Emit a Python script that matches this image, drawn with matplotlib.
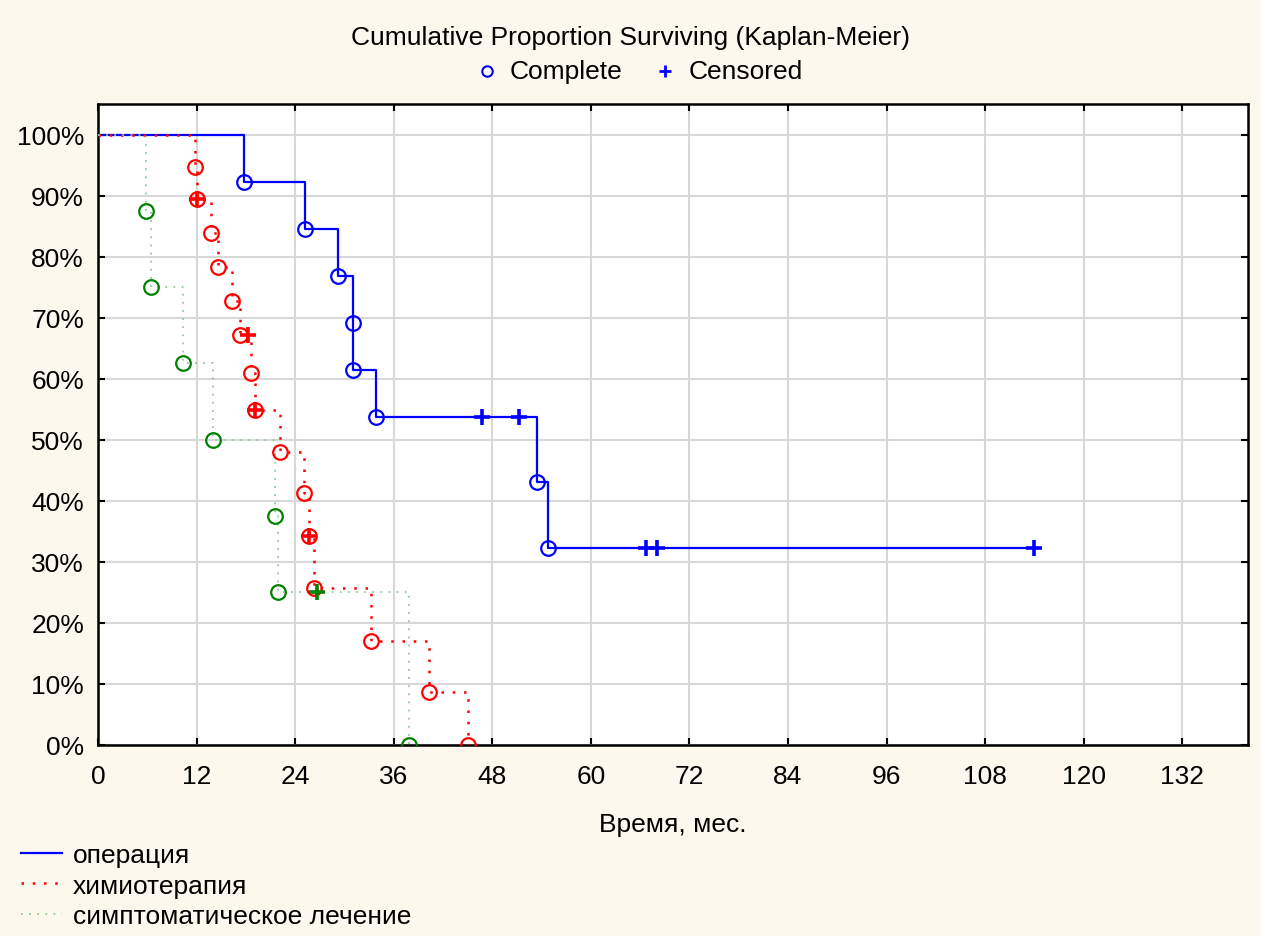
import matplotlib.pyplot as plt
from matplotlib.lines import Line2D
from matplotlib.ticker import FuncFormatter

plt.rcParams['font.family'] = ['Liberation Sans', 'DejaVu Sans']
plt.rcParams['font.size'] = 19

# Kaplan-Meier estimates, survival in %, months
op_event_t = [17.8, 25.2, 29.2, 31.1, 31.1, 33.8, 53.4, 54.8]
op_event_s = [92.3, 84.6, 76.9, 69.2, 61.5, 53.8, 43.1, 32.3]
op_cens_t = [46.7, 51.3, 66.7, 68.1, 114.0]
op_cens_s = [53.8, 53.8, 32.3, 32.3, 32.3]

ch_event_t = [11.8, 12.0, 13.7, 14.6, 16.3, 17.3, 18.6, 19.1, 22.1, 25.1, 25.7, 26.3, 33.2, 40.3, 45.0]
ch_event_s = [94.7, 89.5, 83.9, 78.3, 72.7, 67.1, 61.0, 54.9, 48.0, 41.2, 34.3, 25.7, 17.1, 8.6, 0.0]
ch_cens_t = [12.0, 18.3, 19.1, 25.7]
ch_cens_s = [89.5, 67.1, 54.9, 34.3]

sy_event_t = [5.8, 6.4, 10.4, 14.0, 21.6, 21.9, 37.9]
sy_event_s = [87.5, 75.0, 62.5, 50.0, 37.5, 25.0, 0.0]
sy_cens_t = [26.6]
sy_cens_s = [25.0]

group_names = ['операция', 'химиотерапия', 'симптоматическое лечение']
x_ticks = [0, 12, 24, 36, 48, 60, 72, 84, 96, 108, 120, 132]


def step_curve(ev_t, ev_s, cens_t, cens_s):
    # merge events and censorings into one post-step path starting at 100%
    pts = [(0.0, 100.0)] + list(zip(ev_t, ev_s)) + list(zip(cens_t, cens_s))
    pts.sort(key=lambda p: (p[0], -p[1]))
    xs = [p[0] for p in pts]
    ys = [p[1] for p in pts]
    return xs, ys


groups = [
    (op_event_t, op_event_s, op_cens_t, op_cens_s,
     dict(color='#0000ff', ls='-', lw=1.6), '#0000ff', '#0000ff'),
    (ch_event_t, ch_event_s, ch_cens_t, ch_cens_s,
     dict(color='#ff0000', ls=(0, (1, 3.5)), lw=1.8), '#ff0000', '#ff0000'),
    (sy_event_t, sy_event_s, sy_cens_t, sy_cens_s,
     dict(color='#8fcf8f', ls=(0, (1, 3.5)), lw=1.3), '#008000', '#008000'),
]

W, H = 1261, 937
fig = plt.figure(figsize=(W / 100, H / 100), dpi=100, facecolor='#fdf8ee')
ax = fig.add_axes([98 / W, 1 - 746 / H, 1150 / W, 641 / H])
ax.set_facecolor('white')

line_handles = []
for ev_t, ev_s, c_t, c_s, style, circ_col, plus_col in groups:
    xs, ys = step_curve(ev_t, ev_s, c_t, c_s)
    h, = ax.step(xs, ys, where='post', zorder=3, **style)
    line_handles.append(h)
    ax.plot(ev_t, ev_s, 'o', ms=10.5, mfc='none', mec=circ_col, mew=1.6, zorder=4)
    ax.plot(c_t, c_s, '+', ms=11, mec=plus_col, mew=2.6, zorder=5)

ax.set_xlim(0, 140)
ax.set_ylim(0, 105)
ax.set_xticks(x_ticks)
ax.set_yticks(range(0, 101, 10))
ax.yaxis.set_major_formatter(FuncFormatter(lambda v, p: f'{int(v)}%'))
ax.grid(True, color='#d8d8d8', lw=1.5)
ax.set_axisbelow(True)
ax.tick_params(direction='in', length=5, width=1.5, top=True, right=True,
               labeltop=False, labelright=False)
ax.tick_params(axis='x', pad=14)
ax.tick_params(axis='y', pad=10)
for sp in ax.spines.values():
    sp.set_linewidth(1.8)
    sp.set_color('black')

ax.set_xlabel('Время, мес.', labelpad=17)

fig.text(0.5, 1 - 38 / H, 'Cumulative Proportion Surviving (Kaplan-Meier)',
         ha='center', va='center')

# marker key under the title
key_y = 1 - 72 / H
fig.add_artist(Line2D([487 / W], [key_y], ls='none', marker='o', ms=7.5,
                      mfc='none', mec='#0000ff', mew=1.5, transform=fig.transFigure))
fig.text(510 / W, key_y, 'Complete', ha='left', va='center')
fig.add_artist(Line2D([665 / W], [key_y], ls='none', marker='+', ms=9,
                      mec='#0000ff', mew=2, transform=fig.transFigure))
fig.text(689 / W, key_y, 'Censored', ha='left', va='center')

fig.legend(line_handles, group_names, loc='upper left',
           bbox_to_anchor=(8 / W, 1 - 831 / H), frameon=False,
           handlelength=1.55, handletextpad=0.4, labelspacing=0.24, borderpad=0)

fig.savefig('out.png', dpi=100, facecolor=fig.get_facecolor())
